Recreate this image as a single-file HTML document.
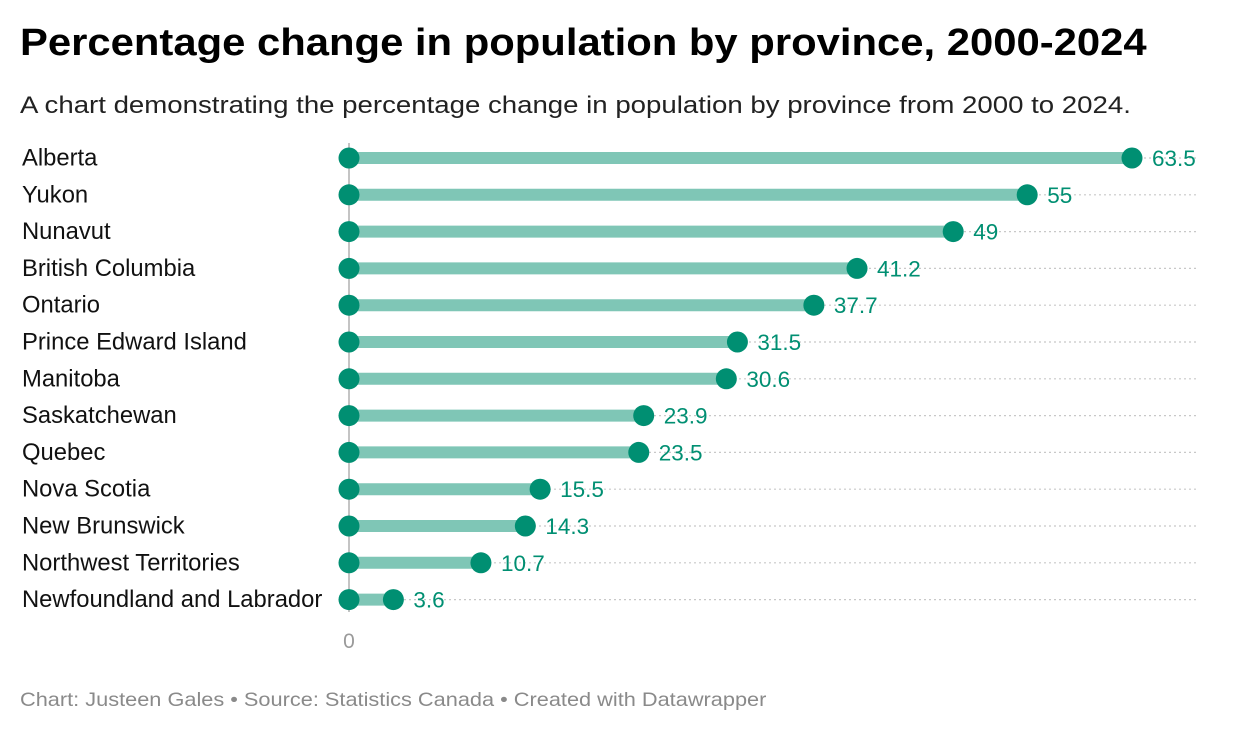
<!DOCTYPE html>
<html><head><meta charset="utf-8"><style>
body{margin:0;background:#fff;width:1240px;height:738px;overflow:hidden;font-family:"Liberation Sans",sans-serif}
#title{position:absolute;left:20px;top:22px;font-size:38px;font-weight:bold;color:#000;margin:0;white-space:nowrap;transform:scaleX(1.1);transform-origin:left top}
#sub{position:absolute;left:20px;top:92px;font-size:24px;color:#222;white-space:nowrap;transform:scaleX(1.15);transform-origin:left top}
#foot{position:absolute;left:20px;top:689px;font-size:19.5px;color:#8a8a8a;white-space:nowrap;transform:scaleX(1.115);transform-origin:left top}
svg{position:absolute;left:0;top:0}
</style></head><body>
<h1 id="title">Percentage change in population by province, 2000-2024</h1>
<div id="sub">A chart demonstrating the percentage change in population by province from 2000 to 2024.</div>
<svg id="chart" width="1240" height="738"></svg>
<div id="foot">Chart: Justeen Gales • Source: Statistics Canada • Created with Datawrapper</div>
<script>
const categories=["Alberta","Yukon","Nunavut","British Columbia","Ontario","Prince Edward Island","Manitoba","Saskatchewan","Quebec","Nova Scotia","New Brunswick","Northwest Territories","Newfoundland and Labrador"];
const values=[63.5,55,49,41.2,37.7,31.5,30.6,23.9,23.5,15.5,14.3,10.7,3.6];
const valueLabels=["63.5","55","49","41.2","37.7","31.5","30.6","23.9","23.5","15.5","14.3","10.7","3.6"];
const tickLabels=["0"];
const x0=349,pxPer=(1132-349)/63.5;
const xs=v=>x0+v*pxPer;
const ys=i=>158+i*36.8;
const svg=document.getElementById('chart');
const NS="http://www.w3.org/2000/svg";
function mk(t,a){const e=document.createElementNS(NS,t);for(const k in a)e.setAttribute(k,a[k]);svg.appendChild(e);return e;}
categories.forEach((c,i)=>{
  const g=mk('line',{x1:x0,x2:1196,y1:ys(i),y2:ys(i),stroke:'#c8c8c8','stroke-width':1.2,'stroke-dasharray':'2 3'});
  
  
});
const ax=mk('line',{x1:x0,x2:x0,y1:143,y2:612,stroke:'#c4c4c4','stroke-width':2});


tickLabels.forEach(t=>{
  const e=mk('text',{x:xs(+t),y:648,'text-anchor':'middle','font-size':21,fill:'#9a9a9a','font-family':'Liberation Sans, sans-serif'});
  e.textContent=t;
  
  
});
categories.forEach((c,i)=>{
  const y=ys(i),v=values[i];
  const l=mk('text',{x:22,y:y+7.5,'font-size':23.8,fill:'#111','font-family':'Liberation Sans, sans-serif'});
  l.textContent=c;
  
  
  const b=mk('line',{x1:x0,x2:xs(v),y1:y,y2:y,stroke:'#7fc6b6','stroke-width':12});
  
  
  const d0=mk('circle',{cx:x0,cy:y,r:10.5,fill:'#008f72'});
  
  
  const d1=mk('circle',{cx:xs(v),cy:y,r:10.5,fill:'#008f72'});
  
  
  const t=mk('text',{x:xs(v)+20,y:y+8,'font-size':22.5,fill:'#008f72','font-family':'Liberation Sans, sans-serif'});
  t.textContent=valueLabels[i];
  
  
});
</script>
</body></html>
